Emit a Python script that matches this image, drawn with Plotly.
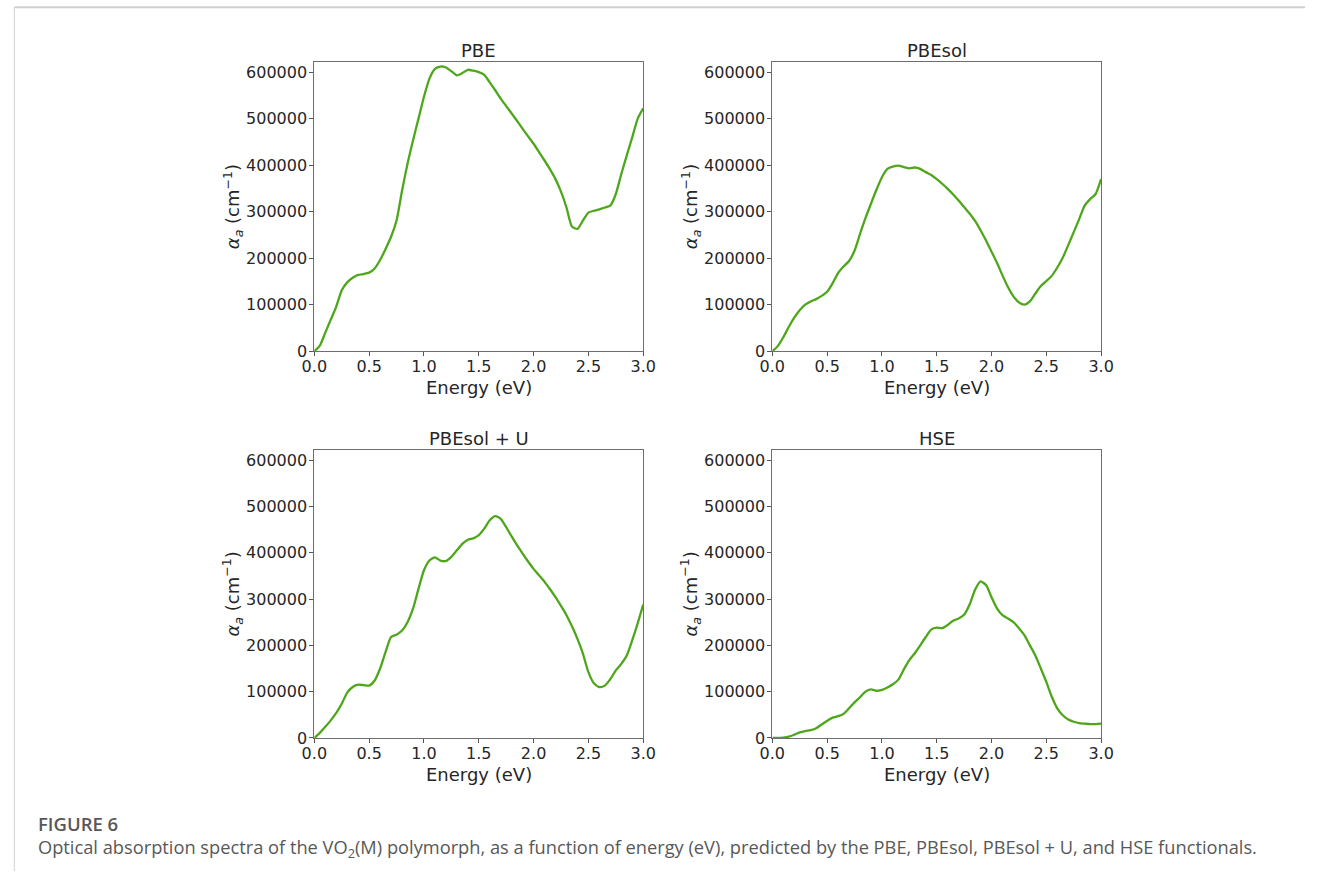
import plotly.graph_objects as go

# Photon energy grid (eV)
energy = [0.0, 0.05, 0.1, 0.15, 0.2, 0.25, 0.3, 0.35, 0.4, 0.45, 0.5, 0.55, 0.6, 0.65,
          0.7, 0.75, 0.8, 0.85, 0.9, 0.95, 1.0, 1.05, 1.1, 1.15, 1.2, 1.25, 1.3, 1.35,
          1.4, 1.45, 1.5, 1.55, 1.6, 1.65, 1.7, 1.75, 1.8, 1.85, 1.9, 1.95, 2.0, 2.05,
          2.1, 2.15, 2.2, 2.25, 2.3, 2.35, 2.4, 2.45, 2.5, 2.55, 2.6, 2.65, 2.7, 2.75,
          2.8, 2.85, 2.9, 2.95, 3.0]

# Absorption coefficient alpha_a (cm^-1) per functional
pbe = [0, 12000, 40000, 68000, 96000, 131000, 148000, 158000, 164000, 166000, 169000,
       178000, 196000, 220000, 246000, 281000, 345000, 403000, 453000, 500000, 547000,
       586000, 607000, 612000, 610000, 602000, 593000, 598000, 605000, 603000, 600000,
       594000, 578000, 561000, 543000, 527000, 511000, 495000, 478000, 462000, 446000,
       428000, 410000, 391000, 370000, 343000, 309000, 268000, 263000, 281000, 298000,
       302000, 305000, 309000, 313000, 338000, 381000, 421000, 460000, 500000, 522000]

pbesol = [0, 11000, 30000, 52000, 72000, 88000, 100000, 107000, 112000, 119000, 128000,
          146000, 168000, 182000, 194000, 216000, 252000, 286000, 317000, 347000, 374000,
          392000, 397000, 399000, 396000, 393000, 395000, 392000, 385000, 379000, 370000,
          360000, 349000, 337000, 324000, 310000, 296000, 280000, 260000, 238000, 214000,
          190000, 163000, 138000, 118000, 105000, 100000, 107000, 124000, 140000, 151000,
          162000, 180000, 201000, 228000, 256000, 284000, 313000, 327000, 338000, 370000]

pbesol_u = [0, 11000, 24000, 38000, 54000, 74000, 98000, 110000, 115000, 114000, 113000,
            124000, 150000, 186000, 218000, 223000, 232000, 250000, 279000, 322000, 362000,
            383000, 390000, 383000, 382000, 391000, 405000, 419000, 428000, 431000, 438000,
            452000, 470000, 479000, 473000, 455000, 435000, 416000, 398000, 381000, 365000,
            351000, 337000, 321000, 304000, 285000, 265000, 241000, 214000, 182000, 142000,
            118000, 110000, 113000, 127000, 146000, 160000, 178000, 211000, 248000, 288000]

hse = [0, 0, 1000, 3000, 7000, 12000, 15000, 17000, 21000, 29000, 37000, 44000, 47000,
       52000, 64000, 77000, 88000, 100000, 105000, 102000, 104000, 109000, 116000,
       126000, 148000, 168000, 183000, 200000, 218000, 234000, 238000, 237000, 244000,
       253000, 258000, 266000, 288000, 320000, 338000, 330000, 304000, 280000, 265000,
       258000, 250000, 237000, 222000, 200000, 178000, 150000, 121000, 89000, 64000,
       49000, 40000, 35000, 32000, 31000, 30000, 30000, 31000]

panels = [
    ("PBE", pbe),
    ("PBEsol", pbesol),
    ("PBEsol + U", pbesol_u),
    ("HSE", hse),
]

x_ticks = [0.0, 0.5, 1.0, 1.5, 2.0, 2.5, 3.0]
y_ticks = [0, 100000, 200000, 300000, 400000, 500000, 600000]

W, H = 1318, 881
LINE = "#4ea61b"
TXT = "#262626"
FONT = "DejaVu Sans"

# Page placement of the rendered paper (offset and scale in screen pixels)
OX, SX, OY, SY = 11.5, 0.9818, 0.0, 0.988


def fx(px):
    """Screen x pixel -> paper fraction."""
    return (px - OX) / SX / W


def fy(py):
    """Screen y pixel (from top) -> paper fraction (from bottom)."""
    return 1 - (py - OY) / SY / H


# Panel boxes in screen pixels: (left, right, top, bottom)
boxes = [
    (313.3, 642.7, 62.3, 351.0),
    (772.0, 1101.3, 62.3, 351.0),
    (313.3, 642.7, 450.0, 737.5),
    (772.0, 1101.3, 450.0, 737.5),
]

fig = go.Figure()
annotations = []
for i, ((name, vals), (l, r, t, b)) in enumerate(zip(panels, boxes)):
    k = "" if i == 0 else str(i + 1)
    fig.add_trace(go.Scatter(
        x=energy, y=vals, mode="lines",
        line=dict(color=LINE, width=2.3, shape="spline", smoothing=0.6),
        xaxis="x" + k, yaxis="y" + k, showlegend=False, hoverinfo="skip",
    ))
    common = dict(
        showline=True, mirror=True, linecolor="#6e6e6e", linewidth=1,
        ticks="outside", ticklen=4, tickwidth=1, tickcolor="#555",
        showgrid=False, zeroline=False,
        tickfont=dict(family=FONT, size=16, color=TXT),
    )
    fig.update_layout({
        "xaxis" + k: dict(
            domain=[fx(l), fx(r)], range=[0, 3], anchor="y" + k,
            tickvals=x_ticks, ticktext=[f"{v:.1f}" for v in x_ticks],
            ticklabelstandoff=-3, **common),
        "yaxis" + k: dict(
            domain=[fy(b), fy(t)], range=[0, 621000], anchor="x" + k,
            tickvals=y_ticks, ticktext=[str(v) for v in y_ticks],
            ticklabelstandoff=-1, **common),
    })
    cx = fx((l + r) / 2)
    annotations.append(dict(
        text=name, x=cx, y=fy(t - 12), xref="paper", yref="paper",
        xanchor="center", yanchor="middle", showarrow=False,
        font=dict(family=FONT, size=18, color=TXT)))
    annotations.append(dict(
        text="Energy (eV)", x=cx, y=fy(b + 36.5), xref="paper", yref="paper",
        xanchor="center", yanchor="middle", showarrow=False,
        font=dict(family=FONT, size=18, color=TXT)))
    annotations.append(dict(
        text="<i>α<sub>a</sub></i> (cm<sup>−1</sup>)", x=fx(l - 82),
        y=fy((t + b) / 2), xref="paper", yref="paper", textangle=-90,
        xanchor="center", yanchor="middle", showarrow=False,
        font=dict(family=FONT, size=18, color=TXT)))

# Figure caption
annotations.append(dict(
    text="FIGURE 6", x=fx(35), y=fy(823), xref="paper", yref="paper",
    xanchor="left", yanchor="middle", showarrow=False,
    font=dict(family="Open Sans", size=18.5, color="#585858", weight=600)))
annotations.append(dict(
    text="Optical absorption spectra of the VO<sub>2</sub>(M) polymorph, as a function of "
         "energy (eV), predicted by the PBE, PBEsol, PBEsol + U, and HSE functionals.",
    x=fx(35), y=fy(847), xref="paper", yref="paper",
    xanchor="left", yanchor="middle", showarrow=False,
    font=dict(family="Open Sans", size=18.25, color="#585858")))

fig.update_layout(
    width=W, height=H,
    margin=dict(l=0, r=0, t=0, b=0),
    paper_bgcolor="white", plot_bgcolor="white",
    annotations=annotations,
    shapes=[
        dict(type="line", xref="paper", yref="paper", x0=0.001, x1=1, y0=fy(7.2),
             y1=fy(7.2), line=dict(color="#d0d0d0", width=2)),
        dict(type="line", xref="paper", yref="paper", x0=0.001, x1=0.001, y0=0,
             y1=fy(7.2), line=dict(color="#d0d0d0", width=1)),
    ],
)

fig.write_html("out.html")
